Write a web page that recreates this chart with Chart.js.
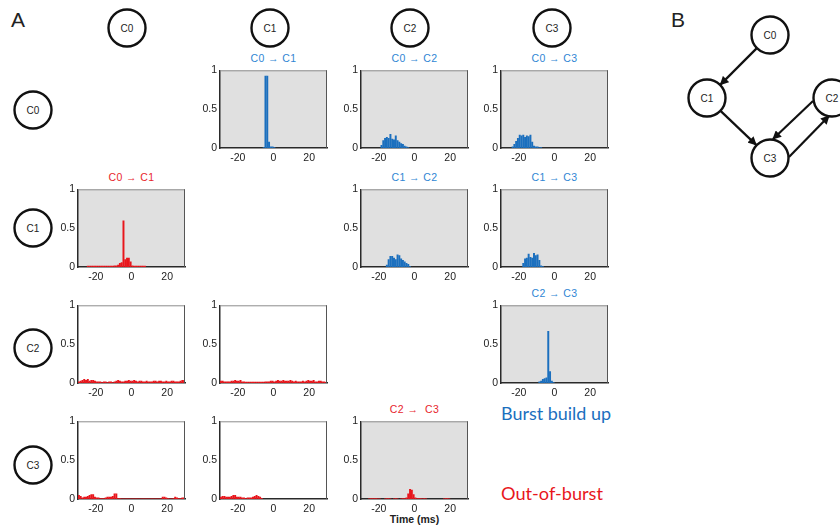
<!DOCTYPE html>
<html>
<head>
<meta charset="utf-8">
<script src="https://cdn.jsdelivr.net/npm/chart.js@4.4.0/dist/chart.umd.min.js"></script>
<style>
  body { margin: 0; width: 840px; height: 528px; overflow: hidden; position: relative; background: #fff; }
  .panel { position: absolute; }
  #overlay { position: absolute; left: 0; top: 0; pointer-events: none; }
  #overlay text { font-family: "Liberation Sans", Arial, sans-serif; fill: #222; }
</style>
</head>
<body>
<svg id="overlay" width="840" height="528" xmlns="http://www.w3.org/2000/svg"></svg>
<script>
const xTicks = [-20, 0, 20];
const yTicks = [0, 0.5, 1];
const nodeNames = ['C0', 'C1', 'C2', 'C3'];

// histograms: first bin edge (ms), then one height per 1 ms bin
// burst build up (blue)
const burstC0C1Start = -6;
const burstC0C1 = [0.01, 0.93, 0.93, 0.08, 0.02, 0.02, 0.01];
const burstC0C2Start = -19;
const burstC0C2 = [0.04, 0.10, 0.13, 0.14, 0.13, 0.18, 0.12, 0.11, 0.16, 0.10, 0.08, 0.06, 0.05, 0.03, 0.02, 0.01];
const burstC0C3Start = -24;
const burstC0C3 = [0.02, 0.05, 0.09, 0.13, 0.17, 0.16, 0.17, 0.14, 0.16, 0.15, 0.17, 0.08, 0.03, 0.02, 0.02, 0.01, 0.01];
const burstC1C2Start = -16;
const burstC1C2 = [0.03, 0.10, 0.14, 0.14, 0.12, 0.10, 0.16, 0.15, 0.11, 0.09, 0.07, 0.05, 0.04, 0.01];
const burstC1C3Start = -18;
const burstC1C3 = [0.05, 0.11, 0.12, 0.17, 0.13, 0.12, 0.18, 0.15, 0.16, 0.09, 0.02, 0.01];
const burstC2C3Start = -9;
const burstC2C3 = [0.02, 0.03, 0.05, 0.06, 0.07, 0.67, 0.15, 0.03, 0.01];

// out-of-burst (red)
const outC0C1Start = -25;
const outC0C1 = [0.015, 0.015, 0.015, 0.015, 0.015, 0.015, 0.015, 0.015, 0.015, 0.015, 0.015, 0.015, 0.015, 0.015, 0.015,
  0.02, 0.02, 0.03, 0.05, 0.06, 0.60, 0.10, 0.12, 0.12, 0.07, 0.02, 0.015, 0.015, 0.015, 0.015, 0.015, 0.015, 0.015];
const outC0C2Start = -30;
const outC0C2 = [0.02, 0.03, 0.04, 0.05, 0.04, 0.05, 0.03, 0.04, 0.04, 0.03, 0.02, 0.02, 0.02, 0.01, 0.02,
  0.02, 0.01, 0.02, 0.02, 0.01, 0.02, 0.03, 0.04, 0.03, 0.02, 0.02, 0.03, 0.03, 0.04, 0.03,
  0.03, 0.04, 0.03, 0.02, 0.03, 0.03, 0.02, 0.02, 0.03, 0.02, 0.02, 0.02, 0.03, 0.03, 0.02,
  0.03, 0.03, 0.02, 0.02, 0.03, 0.02, 0.02, 0.03, 0.03, 0.02, 0.02, 0.02, 0.03, 0.04, 0.04];
const outC1C2Start = -30;
const outC1C2 = [0.03, 0.03, 0.02, 0.02, 0.02, 0.02, 0.03, 0.03, 0.04, 0.03, 0.03, 0.04, 0.02, 0.02, 0.015,
  0.015, 0.015, 0.015, 0.015, 0.015, 0.015, 0.015, 0.015, 0.015, 0.015, 0.02, 0.02, 0.02, 0.03, 0.03,
  0.02, 0.03, 0.04, 0.03, 0.03, 0.04, 0.03, 0.03, 0.03, 0.04, 0.03, 0.02, 0.03, 0.02, 0.02,
  0.02, 0.03, 0.02, 0.03, 0.04, 0.03, 0.03, 0.04, 0.02, 0.02, 0.03, 0.03, 0.02, 0.02, 0.01];
const outC0C3Start = -30;
const outC0C3 = [0.05, 0.04, 0.02, 0.03, 0.03, 0.04, 0.05, 0.06, 0.06, 0.03, 0.02, 0.02, 0.01, 0.01, 0.01,
  0.02, 0.03, 0.03, 0.03, 0.04, 0.07, 0.07, 0.01, 0.01, 0.008, 0.008,
  0.008, 0.008, 0.008, 0.008, 0.008, 0.008, 0.008, 0.008, 0.008, 0.008, 0.008,
  0.008, 0.008, 0.008, 0.008, 0.008, 0.008, 0.008, 0.008, 0.008, 0.008,
  0.03, 0.03, 0.02, 0.01, 0.008, 0.008, 0.01, 0.03, 0.02, 0.01, 0.01, 0.02, 0.02];
const outC1C3Start = -30;
const outC1C3 = [0.03, 0.04, 0.04, 0.03, 0.03, 0.03, 0.04, 0.05, 0.05, 0.03, 0.03, 0.03, 0.02, 0.02, 0.01,
  0.02, 0.02, 0.02, 0.03, 0.04, 0.05, 0.04, 0.03, 0.01];
const outC2C3Start = -26;
const outC2C3 = [0.008, 0.01, 0.01, 0.01, 0.01, 0.008, 0.008, 0, 0, 0.008, 0.01, 0.01, 0.008, 0, 0.008,
  0.01, 0.008, 0, 0.008, 0.01, 0.01, 0.02, 0.07, 0.13, 0.12, 0.06,
  0.02, 0.01, 0.01, 0.01, 0.008, 0.01, 0.008, 0, 0, 0, 0, 0, 0, 0, 0, 0, 0.008, 0.01, 0.01, 0.008];

const BLUE = '#1b6fbe';
const RED = '#e8161c';
const GRAY = '#e0e0e0';
const WHITE = '#ffffff';

// grid geometry (plot areas)
const colLeft = [78, 220, 361, 501];
const rowTop = [69, 188, 304, 420];
const PLOT_W = 107, PLOT_H = 79;
const AXIS_W = 24, AXIS_H = 16, PAD_T = 8, PAD_R = 4;

const panels = [
  { row: 0, col: 1, start: burstC0C1Start, values: burstC0C1, color: BLUE, bg: GRAY, title: 'C0 \u2192 C1' },
  { row: 0, col: 2, start: burstC0C2Start, values: burstC0C2, color: BLUE, bg: GRAY, title: 'C0 \u2192 C2' },
  { row: 0, col: 3, start: burstC0C3Start, values: burstC0C3, color: BLUE, bg: GRAY, title: 'C0 \u2192 C3' },
  { row: 1, col: 0, start: outC0C1Start, values: outC0C1, color: RED, bg: GRAY, title: 'C0 \u2192 C1' },
  { row: 1, col: 2, start: burstC1C2Start, values: burstC1C2, color: BLUE, bg: GRAY, title: 'C1 \u2192 C2' },
  { row: 1, col: 3, start: burstC1C3Start, values: burstC1C3, color: BLUE, bg: GRAY, title: 'C1 \u2192 C3' },
  { row: 2, col: 0, start: outC0C2Start, values: outC0C2, color: RED, bg: WHITE, title: '' },
  { row: 2, col: 1, start: outC1C2Start, values: outC1C2, color: RED, bg: WHITE, title: '' },
  { row: 2, col: 3, start: burstC2C3Start, values: burstC2C3, color: BLUE, bg: GRAY, title: 'C2 \u2192 C3' },
  { row: 3, col: 0, start: outC0C3Start, values: outC0C3, color: RED, bg: WHITE, title: '' },
  { row: 3, col: 1, start: outC1C3Start, values: outC1C3, color: RED, bg: WHITE, title: '' },
  { row: 3, col: 2, start: outC2C3Start, values: outC2C3, color: RED, bg: GRAY, title: 'C2 \u2192  C3' }
];

Chart.defaults.font.family = '"Liberation Sans", Arial, sans-serif';

// grey plot background plus the light top/right edges of a matlab box
const frame = {
  id: 'frame',
  beforeDraw(chart, args, opts) {
    const { ctx, chartArea: a } = chart;
    ctx.save();
    ctx.fillStyle = opts.bg;
    ctx.fillRect(a.left, a.top, a.width, a.height);
    ctx.restore();
  },
  afterDatasetsDraw(chart) {
    const { ctx, chartArea: a } = chart;
    ctx.save();
    ctx.lineWidth = 1;
    ctx.strokeStyle = '#8c8c8c';
    ctx.beginPath();
    ctx.moveTo(a.left, a.top + 0.5);
    ctx.lineTo(a.right, a.top + 0.5);
    ctx.stroke();
    ctx.strokeStyle = '#555';
    ctx.beginPath();
    ctx.moveTo(a.right - 0.5, a.top);
    ctx.lineTo(a.right - 0.5, a.bottom);
    ctx.stroke();
    ctx.restore();
  }
};

function makePanel(p) {
  const wrap = document.createElement('div');
  wrap.className = 'panel';
  wrap.style.left = (colLeft[p.col] - AXIS_W) + 'px';
  wrap.style.top = (rowTop[p.row] - PAD_T) + 'px';
  wrap.style.width = (AXIS_W + PLOT_W + PAD_R) + 'px';
  wrap.style.height = (PAD_T + PLOT_H + AXIS_H) + 'px';
  const cv = document.createElement('canvas');
  wrap.appendChild(cv);
  document.body.appendChild(wrap);

  const tickFont = { size: 10.5 };
  new Chart(cv, {
    type: 'bar',
    data: {
      datasets: [{
        data: p.values.map((v, i) => ({ x: p.start + i + 0.5, y: v })),
        backgroundColor: p.color,
        borderWidth: 0,
        barPercentage: 1.1,
        categoryPercentage: 1
      }]
    },
    options: {
      responsive: true,
      maintainAspectRatio: false,
      animation: false,
      events: [],
      layout: { padding: { top: PAD_T, right: PAD_R, left: 0, bottom: 0 } },
      plugins: {
        legend: { display: false },
        tooltip: { enabled: false },
        frame: { bg: p.bg }
      },
      scales: {
        x: {
          type: 'linear', min: -30, max: 30, offset: false,
          grid: { display: false, drawTicks: false },
          border: { display: true, color: '#2a2a2a', width: 1.5 },
          afterBuildTicks: a => { a.ticks = xTicks.map(v => ({ value: v })); },
          afterFit: a => { a.height = AXIS_H; },
          ticks: { font: tickFont, color: '#222', padding: 4, maxRotation: 0, autoSkip: false }
        },
        y: {
          min: 0, max: 1,
          grid: { display: false, drawTicks: false },
          border: { display: true, color: '#2a2a2a', width: 1.5 },
          afterBuildTicks: a => { a.ticks = yTicks.map(v => ({ value: v })); },
          afterFit: a => { a.width = AXIS_W; },
          ticks: { font: tickFont, color: '#222', padding: 3, callback: v => String(v) }
        }
      }
    },
    plugins: [frame]
  });
}

panels.forEach(makePanel);

// ---- overlay: node circles, titles, labels, network diagram
const svg = document.getElementById('overlay');
const NS = 'http://www.w3.org/2000/svg';
function el(tag, attrs, text) {
  const e = document.createElementNS(NS, tag);
  for (const k in attrs) e.setAttribute(k, attrs[k]);
  if (text !== undefined) e.textContent = text;
  svg.appendChild(e);
  return e;
}
function node(cx, cy, name) {
  el('circle', { cx, cy, r: 18.5, fill: '#fff', stroke: '#111', 'stroke-width': 2.4 });
  el('text', { x: cx, y: cy + 3.5, 'text-anchor': 'middle', 'font-size': 10 }, name);
}

el('text', { x: 11, y: 27, 'font-size': 21 }, 'A');
el('text', { x: 671, y: 27, 'font-size': 21 }, 'B');

const headX = [127, 270, 410, 552];
const sideY = [110, 228, 348, 465];
nodeNames.forEach((n, i) => {
  node(headX[i], 28, n);
  node(33, sideY[i], n);
});

panels.forEach(p => {
  if (!p.title) return;
  el('text', {
    x: colLeft[p.col] + PLOT_W / 2, y: rowTop[p.row] - 7,
    'text-anchor': 'middle', 'font-size': 10.5, 'letter-spacing': 0.4,
    style: 'white-space:pre;fill:' + (p.color === BLUE ? '#2f86d4' : '#e8262c')
  }, p.title);
});

el('text', { x: colLeft[2] + PLOT_W / 2, y: 523, 'text-anchor': 'middle', 'font-size': 10.5, style: 'font-weight:bold;fill:#222' }, 'Time (ms)');
el('text', { x: 501, y: 420, 'font-size': 17, textLength: 110, lengthAdjust: 'spacingAndGlyphs', style: 'font-family:Lato,sans-serif;fill:' + BLUE }, 'Burst build up');
el('text', { x: 501, y: 500, 'font-size': 17, textLength: 102, lengthAdjust: 'spacingAndGlyphs', style: 'font-family:Lato,sans-serif;fill:' + RED }, 'Out-of-burst');

// network diagram (B)
const defs = el('defs', {});
const marker = document.createElementNS(NS, 'marker');
marker.setAttribute('id', 'ah');
marker.setAttribute('viewBox', '0 0 10 10');
marker.setAttribute('refX', '9');
marker.setAttribute('refY', '5');
marker.setAttribute('markerWidth', '4');
marker.setAttribute('markerHeight', '4');
marker.setAttribute('orient', 'auto');
const mp = document.createElementNS(NS, 'path');
mp.setAttribute('d', 'M0,0 L10,5 L0,10 z');
mp.setAttribute('fill', '#111');
marker.appendChild(mp);
defs.appendChild(marker);

const edges = [
  [756.6, 48.4, 720.4, 84.6],
  [720.8, 111.1, 756.2, 144.9],
  [813, 101, 773, 139],
  [789, 157, 829, 116]
];
edges.forEach(e => el('line', { x1: e[0], y1: e[1], x2: e[2], y2: e[3], stroke: '#111', 'stroke-width': 2.2, 'marker-end': 'url(#ah)' }));
node(770, 35, 'C0');
node(707, 98, 'C1');
node(832, 98, 'C2');
node(770, 158, 'C3');
</script>
</body>
</html>
